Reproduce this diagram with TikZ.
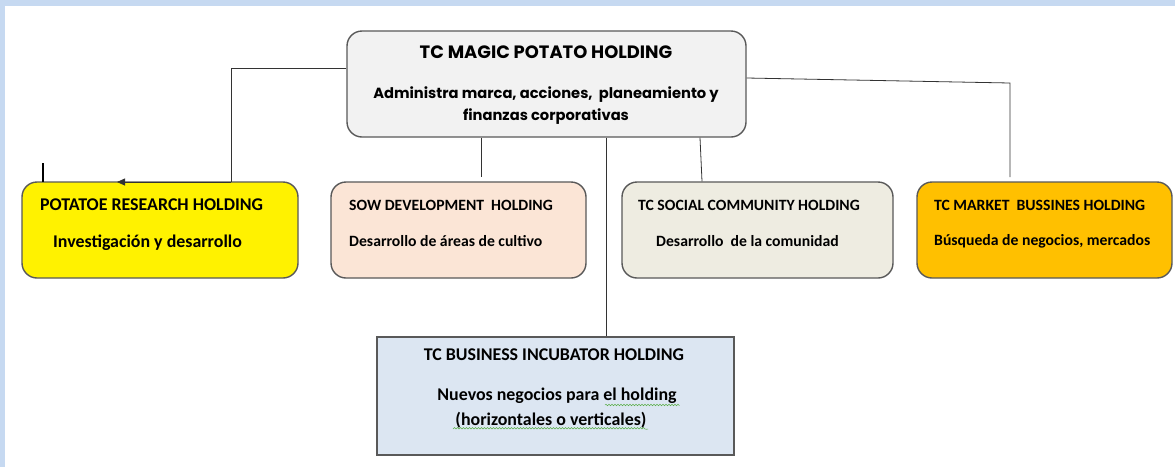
\documentclass[tikz,border=0pt]{standalone}
\usepackage{fontspec}
\setmainfont{Carlito}
\newfontfamily\gothic{Poppins}
\usetikzlibrary{arrows.meta,decorations.pathmorphing}

\definecolor{bandblue}{HTML}{C6D9F1}
\definecolor{boxline}{HTML}{595959}
\definecolor{magicfill}{HTML}{F2F2F2}
\definecolor{sowfill}{HTML}{FBE5D6}
\definecolor{socfill}{HTML}{EEECE1}
\definecolor{mktfill}{HTML}{FFC000}
\definecolor{incfill}{HTML}{DCE6F2}
\definecolor{spellgreen}{HTML}{5BAE4A}

\begin{document}
\begin{tikzpicture}[x=1pt,y=-1pt,
  box/.style={draw=boxline,line width=1.4pt,rounded corners=15pt,inner sep=0pt},
  ttl/.style={inner sep=0pt,font=\bfseries\fontsize{15.7}{18}\selectfont},
  sub/.style={inner sep=0pt,font=\bfseries\fontsize{15.7}{18}\selectfont},
  big/.style={inner sep=0pt,font=\bfseries\fontsize{17.9}{21}\selectfont},
  wire/.style={draw=black!80,line width=0.8pt}]

%background
\fill[white] (0,0) rectangle (1175,467);
\fill[bandblue] (0,0) rectangle (1175,6);
\fill[bandblue] (0,0) rectangle (5,467);
\useasboundingbox (0,0) rectangle (1175,467);

%holding
\node[box,fill=magicfill,minimum width=399pt,minimum height=106pt] (magic) at (546.5,84) {};
\node[inner sep=0pt,font=\gothic\bfseries\fontsize{17.9}{21}\selectfont] (magT) at (546,52) {TC MAGIC POTATO HOLDING};
\node[inner sep=0pt,font=\gothic\bfseries\fontsize{14.7}{17}\selectfont] (magS1) at (546,95) {Administra marca, acciones,\ \ planeamiento y};
\node[inner sep=0pt,font=\gothic\bfseries\fontsize{14.7}{17}\selectfont] (magS2) at (546,117) {finanzas corporativas};

%subsidiaries
\node[box,fill=yellow,minimum width=276pt,minimum height=96pt] (pot) at (160,230) {};
\node[box,fill=sowfill,minimum width=255pt,minimum height=96pt] (sow) at (458.5,230) {};
\node[box,fill=socfill,minimum width=271pt,minimum height=96pt] (soc) at (757.5,230) {};
\node[box,fill=mktfill,minimum width=255pt,minimum height=96pt] (mkt) at (1044.5,230) {};
\node[box,fill=incfill,rounded corners=0pt,minimum width=357pt,minimum height=118pt] (inc) at (555.5,396) {};

\node[big,anchor=west] (potT) at (40,205) {POTATOE RESEARCH HOLDING};
\node[big,anchor=west] (potS) at (53,243) {Investigación y desarrollo};
\node[ttl,anchor=west] (sowT) at (349,205) {SOW DEVELOPMENT\ \ HOLDING};
\node[sub,anchor=west] (sowS) at (349,241) {Desarrollo de áreas de cultivo};
\node[ttl,anchor=west] (socT) at (638,205) {TC SOCIAL COMMUNITY HOLDING};
\node[sub,anchor=west] (socS) at (656,241) {Desarrollo\ \ de la comunidad};
\node[ttl,anchor=west] (mktT) at (934,205) {TC MARKET\ \ BUSSINES HOLDING};
\node[sub,anchor=west] (mktS) at (934,241) {Búsqueda de negocios, mercados};
\node[big] (incT) at (554,355) {TC BUSINESS INCUBATOR HOLDING};
\node[big] (incS1) at (557,396) {Nuevos negocios para el holding};
\node[big] (incS2) at (551,420) {(horizontales o verticales)};

%spelling marks
\draw[spellgreen,line width=0.5pt,decorate,decoration={snake,amplitude=0.8pt,segment length=3pt}]
  (605,405) -- (678,405) (453,429) -- (648,429);

%connectors
\coordinate (potBend) at (231,68);
\coordinate (potTop) at (231,182);
\coordinate (potTip) at (117,182);
\coordinate (tickA) at (43,163);
\coordinate (tickB) at (43,182);
\coordinate (mktBend) at (1010,83);
\coordinate (mktEnd) at (1010,177);

\draw[wire] (magic.west |- potBend) -- (potBend) -- (potTop);
\draw[wire,-{Triangle[length=8pt,width=7pt]}] (potTop) -- (potTip);
\draw[black,line width=1.6pt] (tickA) -- (tickB);
\draw[wire] (magic.south -| 481,0) -- (481,177);
\draw[wire] (magic.south -| 606,0) -- (inc.north -| 606,0);
\draw[wire] (magic.south -| 700,0) -- (soc.north -| 702,0);
\draw[wire] (magic.east |- 0,78) -- (mktBend) -- (mktEnd);

\end{tikzpicture}
\end{document}
